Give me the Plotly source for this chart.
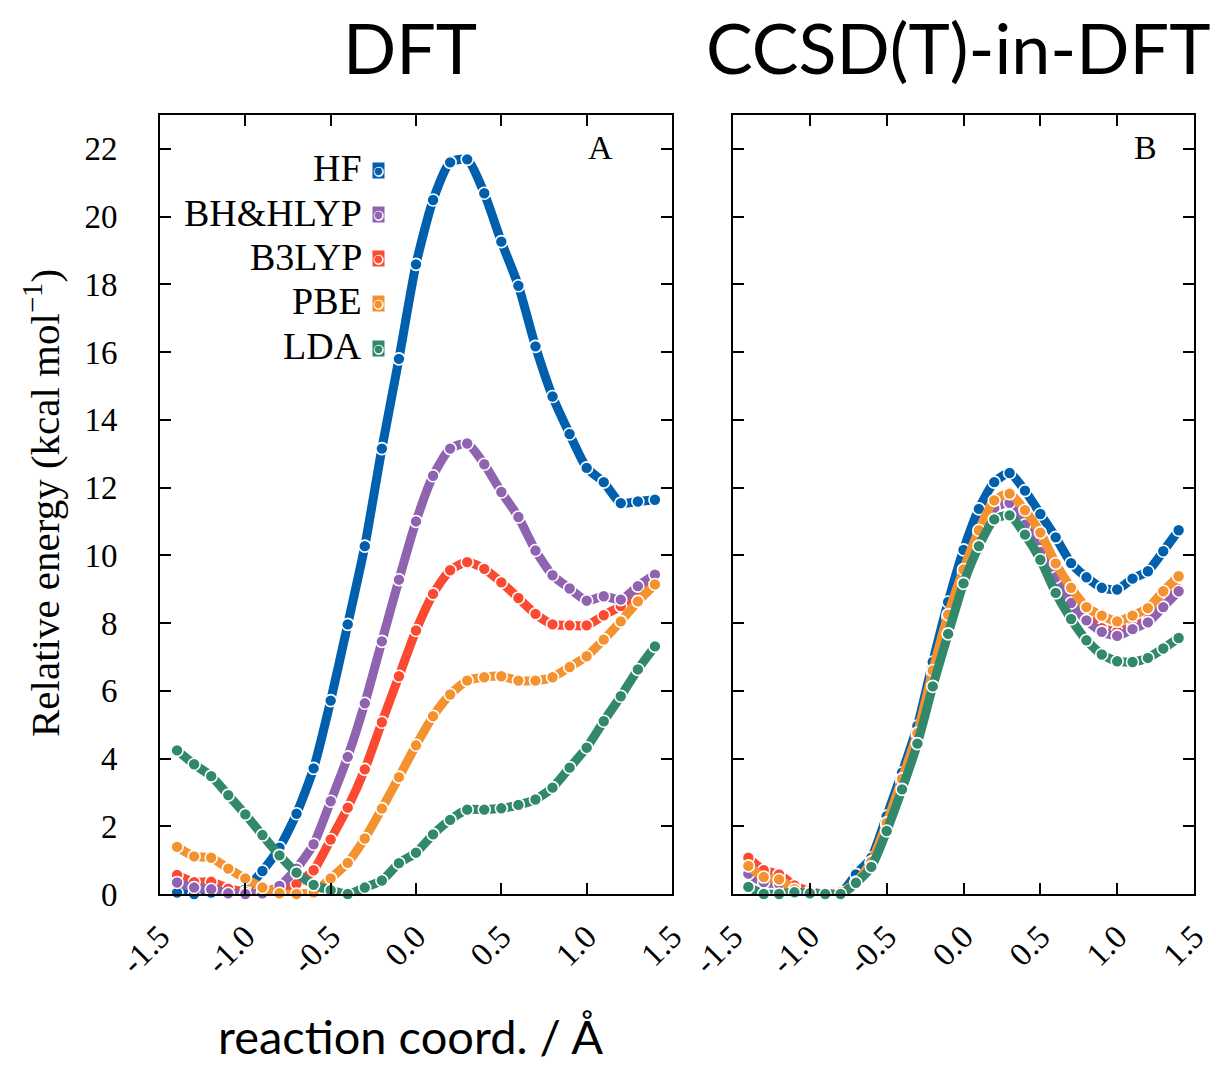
import plotly.graph_objects as go

# ---------------- data ----------------
X = [-1.4, -1.3, -1.2, -1.1, -1.0, -0.9, -0.8, -0.7, -0.6, -0.5, -0.4, -0.3, -0.2, -0.1,
     0.0, 0.1, 0.2, 0.3, 0.4, 0.5, 0.6, 0.7, 0.8, 0.9, 1.0, 1.1, 1.2, 1.3, 1.4]

METHODS = ["HF", "BH&HLYP", "B3LYP", "PBE", "LDA"]

# Panel A: DFT
HF_A = [0.04, 0.0, 0.04, 0.02, 0.14, 0.68, 1.37, 2.37, 3.71, 5.71, 7.96, 10.27, 13.15, 15.80,
        18.59, 20.49, 21.60, 21.69, 20.69, 19.26, 17.96, 16.17, 14.69, 13.58, 12.58, 12.16, 11.54, 11.59, 11.64]
BH_A = [0.34, 0.19, 0.14, 0.02, 0.0, 0.02, 0.24, 0.75, 1.47, 2.74, 4.05, 5.63, 7.46, 9.28,
        11.0, 12.35, 13.15, 13.30, 12.69, 11.87, 11.13, 10.14, 9.41, 9.02, 8.66, 8.79, 8.69, 9.09, 9.43]
B3_A = [0.56, 0.35, 0.36, 0.16, 0.06, 0.0, 0.05, 0.30, 0.70, 1.61, 2.55, 3.68, 5.07, 6.43,
        7.78, 8.86, 9.56, 9.80, 9.60, 9.20, 8.74, 8.27, 7.96, 7.93, 7.93, 8.23, 8.50, 8.96, 9.38]
PBE_A = [1.39, 1.11, 1.07, 0.75, 0.46, 0.19, 0.02, 0.0, 0.05, 0.46, 0.92, 1.64, 2.52, 3.45,
         4.39, 5.25, 5.89, 6.30, 6.40, 6.43, 6.30, 6.30, 6.40, 6.70, 7.02, 7.51, 8.05, 8.64, 9.14]
LDA_A = [4.24, 3.83, 3.48, 2.92, 2.35, 1.74, 1.14, 0.63, 0.27, 0.11, 0.0, 0.19, 0.40, 0.91,
         1.22, 1.76, 2.19, 2.49, 2.49, 2.53, 2.63, 2.79, 3.14, 3.73, 4.32, 5.10, 5.84, 6.63, 7.31]

# Panel B: CCSD(T)-in-DFT
HF_B = [0.60, 0.35, 0.30, 0.05, 0.0, 0.0, 0.02, 0.58, 1.07, 2.30, 3.58, 4.96, 6.85, 8.62,
        10.16, 11.37, 12.16, 12.43, 11.91, 11.22, 10.53, 9.77, 9.35, 9.04, 8.99, 9.31, 9.53, 10.12, 10.74]
BH_B = [0.60, 0.35, 0.30, 0.10, 0.02, 0.0, 0.02, 0.30, 0.90, 2.00, 3.30, 4.65, 6.50, 8.15,
        9.45, 10.60, 11.40, 11.55, 10.90, 10.10, 9.35, 8.59, 8.08, 7.74, 7.62, 7.82, 8.02, 8.47, 8.94]
B3_B = [1.07, 0.70, 0.58, 0.25, 0.08, 0.0, 0.03, 0.32, 0.92, 2.05, 3.35, 4.70, 6.55, 8.20,
        9.50, 10.65, 11.45, 11.60, 11.05, 10.25, 9.40, 8.70, 8.20, 7.85, 7.75, 7.90, 8.10, 8.55, 9.00]
PBE_B = [0.83, 0.50, 0.43, 0.14, 0.02, 0.0, 0.05, 0.35, 0.95, 2.10, 3.40, 4.75, 6.60, 8.25,
         9.58, 10.74, 11.62, 11.82, 11.33, 10.67, 9.76, 9.04, 8.47, 8.22, 8.05, 8.22, 8.44, 8.94, 9.38]
LDA_B = [0.21, 0.0, 0.0, 0.05, 0.02, 0.0, 0.0, 0.33, 0.80, 1.86, 3.09, 4.44, 6.13, 7.68,
         9.17, 10.27, 11.06, 11.18, 10.61, 9.87, 8.89, 8.12, 7.49, 7.07, 6.87, 6.85, 6.97, 7.25, 7.56]

XTICKS = [-1.5, -1.0, -0.5, 0.0, 0.5, 1.0, 1.5]
XTICKTEXT = ["-1.5", "-1.0", "-0.5", "0.0", "0.5", "1.0", "1.5"]
YTICKS = [0, 2, 4, 6, 8, 10, 12, 14, 16, 18, 20, 22]

COLORS = {"HF": "#0060ad", "BH&HLYP": "#9063b0", "B3LYP": "#fb4a31",
          "PBE": "#f4922f", "LDA": "#31886b"}

PANEL_A = {"HF": HF_A, "BH&HLYP": BH_A, "B3LYP": B3_A, "PBE": PBE_A, "LDA": LDA_A}
PANEL_B = {"HF": HF_B, "BH&HLYP": BH_B, "B3LYP": B3_B, "PBE": PBE_B, "LDA": LDA_B}
DRAW_ORDER = ["HF", "B3LYP", "BH&HLYP", "PBE", "LDA"]

SERIF = "Liberation Serif, DejaVu Serif, serif"
SANS = "Lato, Open Sans, sans-serif"

W, H = 1216, 1066

fig = go.Figure()
for panel, (xa, ya) in ((PANEL_A, ("x", "y")), (PANEL_B, ("x2", "y2"))):
    for m in DRAW_ORDER:
        fig.add_trace(go.Scatter(
            x=X, y=panel[m], xaxis=xa, yaxis=ya, name=m, showlegend=False,
            mode="lines+markers", cliponaxis=False,
            line=dict(color=COLORS[m], width=9, shape="spline", smoothing=0.6),
            marker=dict(color=COLORS[m], size=12, line=dict(color="white", width=1.6)),
        ))

axis_common = dict(showline=True, linecolor="black", linewidth=2, mirror="ticks",
                   ticks="inside", ticklen=11, tickwidth=1.6, tickcolor="black",
                   showgrid=False, zeroline=False, automargin=False)

def px(v):
    return v / W

def py(v):
    return 1 - v / H

fig.update_layout(
    width=W, height=H, margin=dict(l=0, r=0, t=0, b=0, autoexpand=False),
    paper_bgcolor="white", plot_bgcolor="white",
    xaxis=dict(domain=[px(160), px(672)], range=[-1.5, 1.5], tickvals=XTICKS, ticktext=XTICKTEXT,
               tickangle=-45, tickfont=dict(family=SERIF, size=33, color="black"),
               ticklabelstandoff=8, anchor="y", **axis_common),
    yaxis=dict(domain=[py(894), py(115)], range=[0, 23], tickvals=YTICKS,
               tickfont=dict(family=SERIF, size=33, color="black"),
               ticklabelstandoff=34, anchor="x", **axis_common),
    xaxis2=dict(domain=[px(733), px(1194)], range=[-1.5, 1.5], tickvals=XTICKS, ticktext=XTICKTEXT,
                tickangle=-45, tickfont=dict(family=SERIF, size=33, color="black"),
                ticklabelstandoff=8, anchor="y2", **axis_common),
    yaxis2=dict(domain=[py(894), py(115)], range=[0, 23], tickvals=YTICKS,
                showticklabels=False, anchor="x2", **axis_common),
)


def text_ann(text, x, y, size, family, xanchor="center", **kw):
    return dict(text=text, x=px(x), y=py(y), xref="paper", yref="paper",
                xanchor=xanchor, yanchor="middle", showarrow=False,
                font=dict(family=family, size=size, color=kw.pop("color", "black")), **kw)


ann = []
# titles
ann.append(text_ann("DFT", 410, 47, 70, SANS))
ann.append(text_ann("CCSD(T)-in-DFT", 958, 47, 70, SANS))
# axis titles
ann.append(text_ann("reaction coord. / Å", 410, 1036, 47, SANS))
ann.append(text_ann("Relative energy (kcal mol<sup>−1</sup>)", 42, 503, 41, SERIF, textangle=-90))
# panel labels
ann.append(text_ann("A", 600, 147, 34, SERIF))
ann.append(text_ann("B", 1145, 147, 34, SERIF))
# legend (text right-aligned, sample to the right)
for i, m in enumerate(METHODS):
    yc = 168 + i * 44.5
    ann.append(text_ann(m, 364, yc, 38, SERIF, xanchor="right"))
    ann.append(text_ann("●", 378, yc + 2, 13, "DejaVu Sans", color="white",
                        bgcolor=COLORS[m], borderpad=0))
    ann.append(text_ann("●", 378, yc + 2, 10, "DejaVu Sans", color=COLORS[m]))

fig.update_layout(annotations=ann)
fig.write_html("out.html")
